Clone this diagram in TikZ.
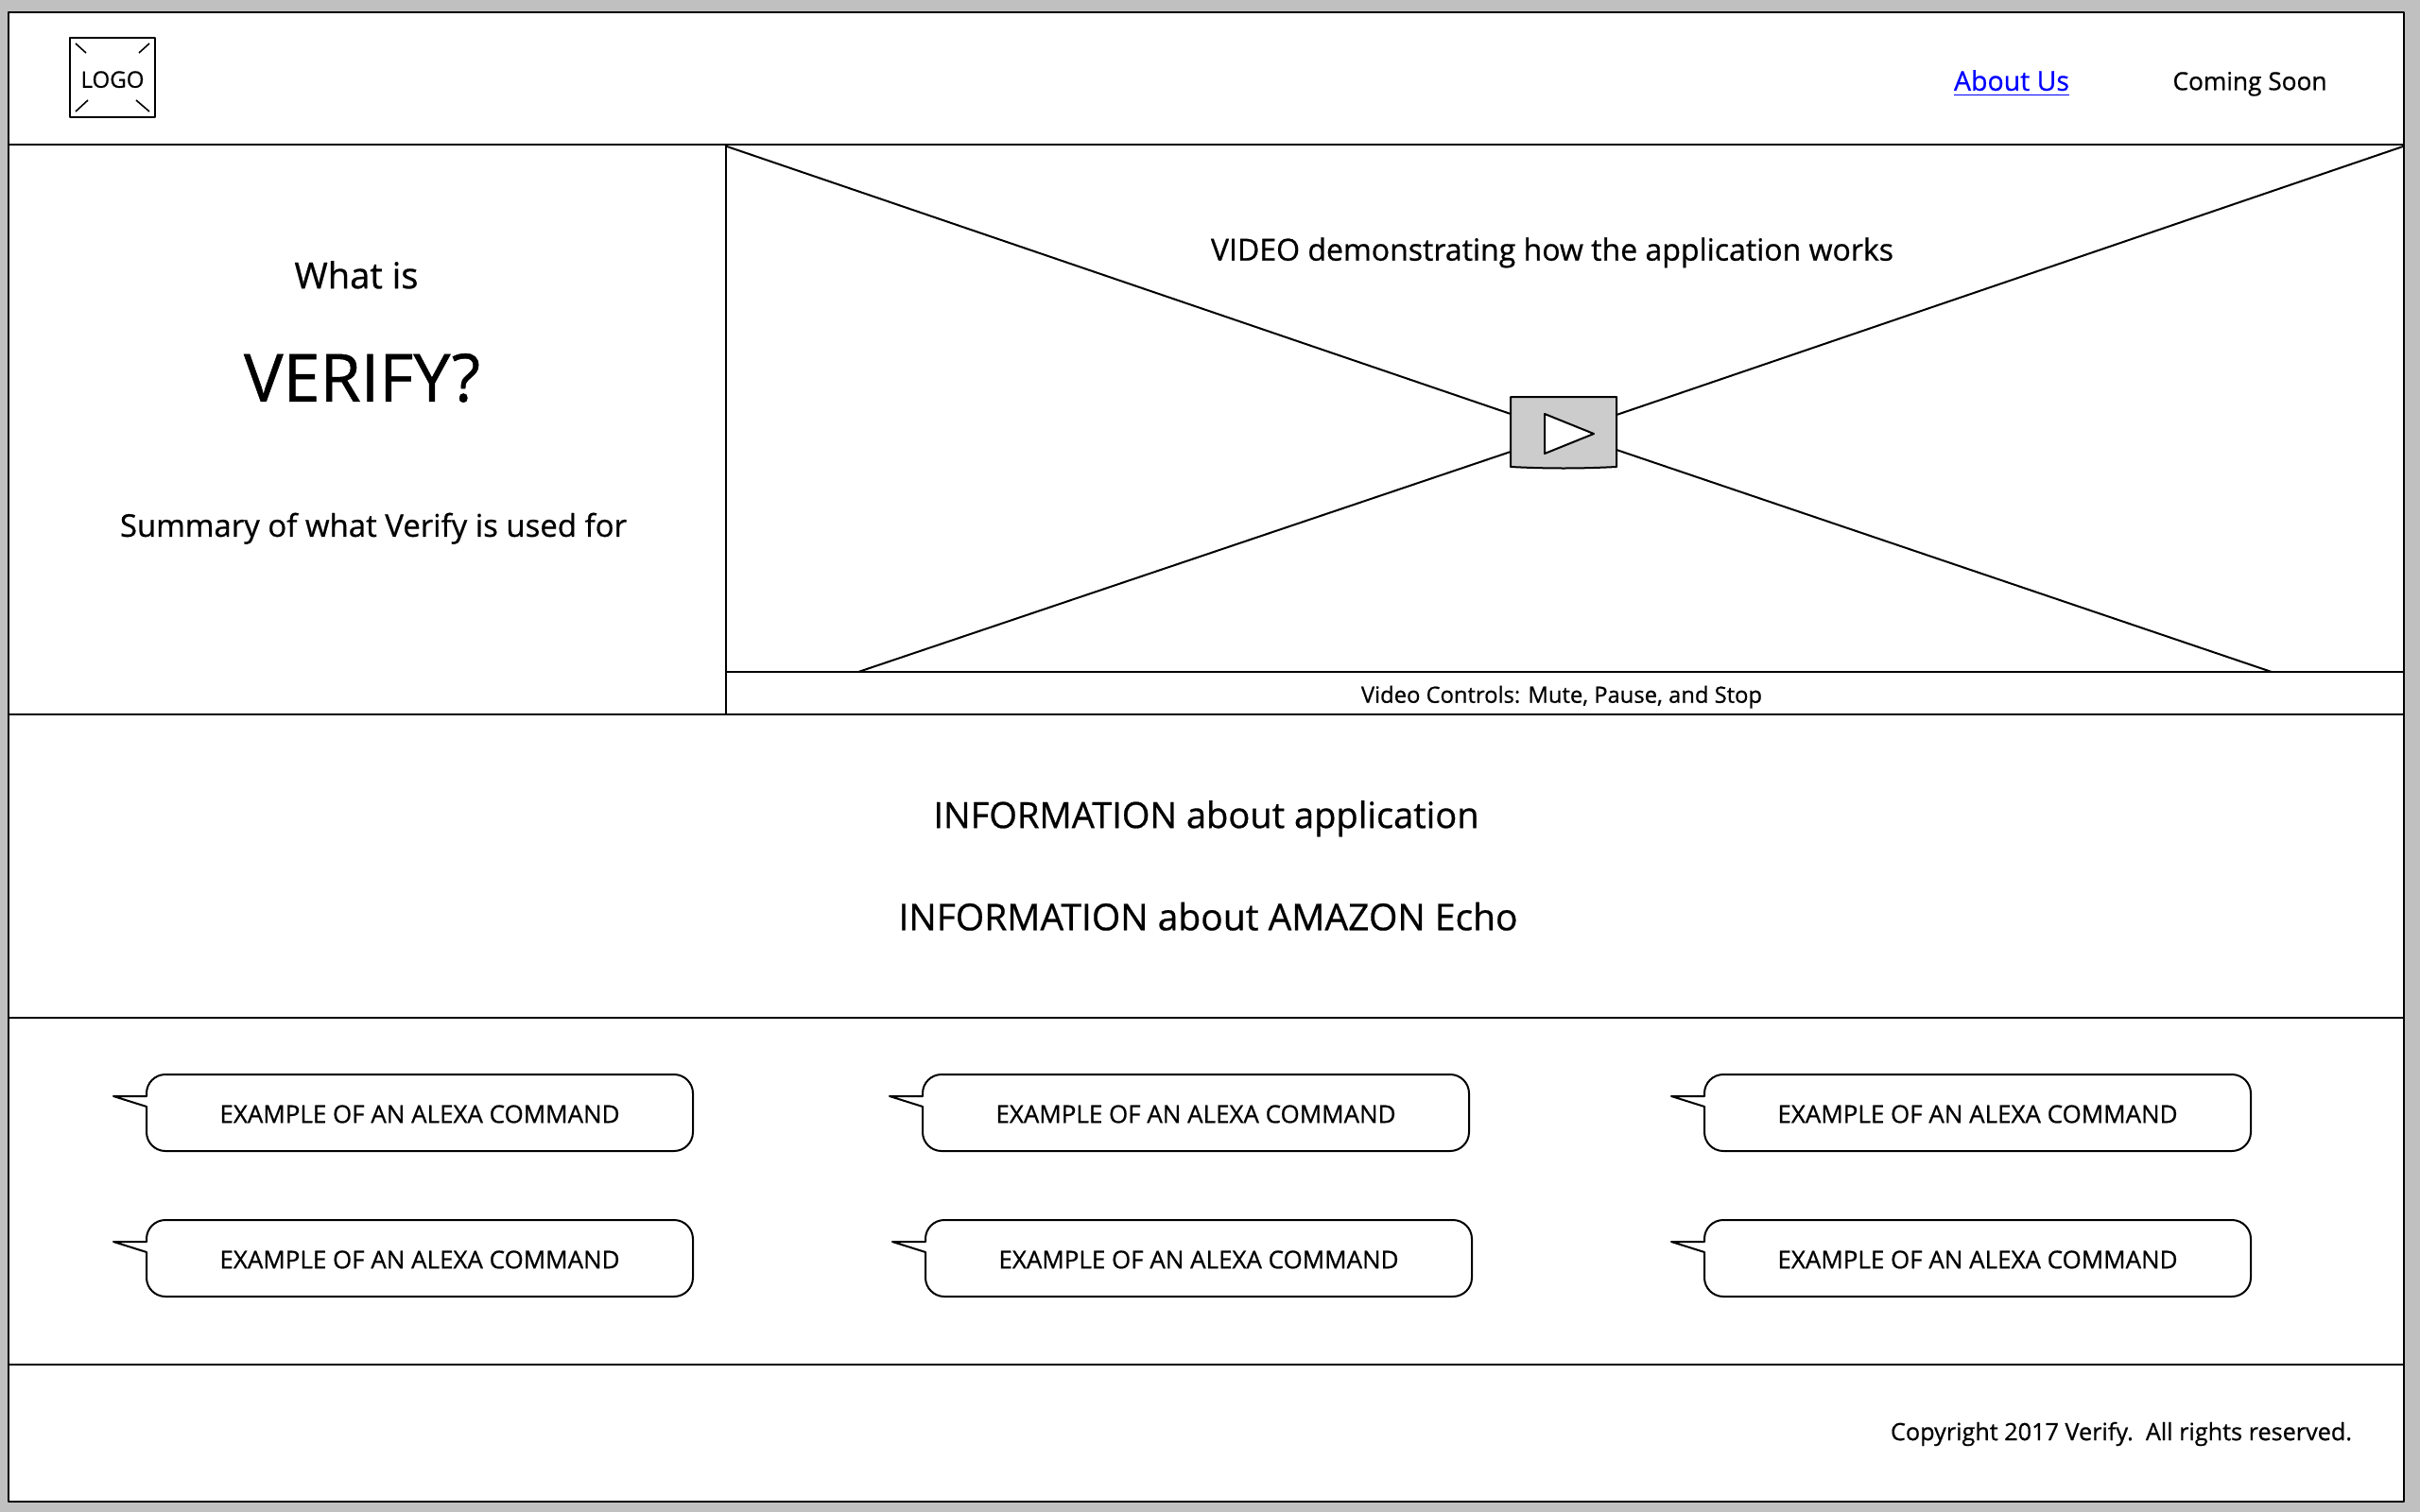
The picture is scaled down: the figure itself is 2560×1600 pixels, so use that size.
\documentclass[tikz,border=0pt]{standalone}
\usepackage{graphicx}
\usepackage{fontspec}
\setmainfont{Open Sans}[RawFeature={embolden=0.7}]
\definecolor{pagegray}{HTML}{C0C0C0}
\definecolor{playgray}{HTML}{CCCCCC}
\definecolor{linkblue}{HTML}{0000FF}
\newcommand{\fitw}[2]{\resizebox{#1pt}{!}{\strut #2}}
\newcommand{\bubble}[3]{% name, left x, top y
  \draw[wire,fill=white]
    (#2+20,#3) -- (#2+558,#3) arc[start angle=90,end angle=0,radius=20pt]
    -- (#2+578,#3+61) arc[start angle=360,end angle=270,radius=20pt]
    -- (#2+20,#3+81) arc[start angle=270,end angle=180,radius=20pt]
    -- (#2,#3+34) -- (#2-35,#3+23) -- (#2,#3+23)
    -- (#2,#3+20) arc[start angle=180,end angle=90,radius=20pt] -- cycle;
  \node[txt] (#1) at (#2+289,#3+45) {\fitw{423}{EXAMPLE OF AN ALEXA COMMAND}};
}
\tikzset{
  wire/.style={draw=black,line width=2pt,line join=round},
  txt/.style={inner sep=0pt,outer sep=0pt,text=black,anchor=center},
}
\begin{document}
\begin{tikzpicture}[x=1pt,y=-1pt]
\useasboundingbox (0,0) rectangle (2560,1600);
\fill[pagegray] (0,0) rectangle (2560,1600);
% page frame and sections
\draw[wire,fill=white] (9,13) rectangle (2543,1589);
\draw[wire] (9,153) -- (2543,153);
\draw[wire] (9,756) -- (2543,756);
\draw[wire] (9,1077) -- (2543,1077);
\draw[wire] (9,1444) -- (2543,1444);
\draw[wire] (768,153) -- (768,756);
\draw[wire] (768,711) -- (2543,711);
% logo
\draw[wire] (74,40) rectangle (164,124);
\node[txt] (logo) at (119,87) {\fitw{67}{LOGO}};
\foreach \a/\b/\c/\d in {80/46/91/56, 158/46/147/56, 80/118/93/106, 158/118/144/106}
  \draw[line width=1.6pt] (\a,\b) -- (\c,\d);
% header links
\node[txt] (about) at (2128,89) {\fitw{122}{\textcolor{linkblue}{\underline{About Us}}}};
\node[txt] (soon) at (2380,89) {\fitw{163}{Coming Soon}};
% left panel
\node[txt] (whatis) at (377,296) {\fitw{131}{What is}};
\node[txt] (verify) at (383,408) {\fitw{250}{VERIFY?}};
\node[txt] (summary) at (395,560) {\fitw{536}{Summary of what Verify is used for}};
% video
\node[txt] (videotxt) at (1642,268) {\fitw{722}{VIDEO demonstrating how the application works}};
\draw[wire,fill=playgray] (1598,420) -- (1710,420) -- (1710,494) .. controls (1670,496) and (1638,496) .. (1598,494) -- cycle;
\coordinate (playnw) at (1598,438);
\coordinate (playsw) at (1598,478);
\coordinate (playne) at (1710,439);
\coordinate (playse) at (1710,476);
\coordinate (vidnw) at (769,155);
\coordinate (vidne) at (2542,155);
\coordinate (vidsw) at (908,711);
\coordinate (vidse) at (2403,711);
\draw[wire] (vidnw) -- (playnw);
\draw[wire] (vidne) -- (playne);
\draw[wire] (vidsw) -- (playsw);
\draw[wire] (vidse) -- (playse);
\draw[wire,fill=white] (1634,438) -- (1686,459) -- (1634,480) -- cycle;
\node[txt] (controls) at (1652,738) {\fitw{424}{Video Controls: Mute, Pause, and Stop}};
% information
\node[txt] (info1) at (1276,867) {\fitw{577}{INFORMATION about application}};
\node[txt] (info2) at (1278,975) {\fitw{655}{INFORMATION about AMAZON Echo}};
% commands
\bubble{cmda}{155}{1137}
\bubble{cmdb}{976}{1137}
\bubble{cmdc}{1803}{1137}
\bubble{cmdd}{155}{1291}
\bubble{cmde}{979}{1291}
\bubble{cmdf}{1803}{1291}
% footer
\node[txt,anchor=east] (copy) at (2488,1518) {\fitw{488}{Copyright 2017 Verify.\ \ All rights reserved.}};
\end{tikzpicture}
\end{document}
